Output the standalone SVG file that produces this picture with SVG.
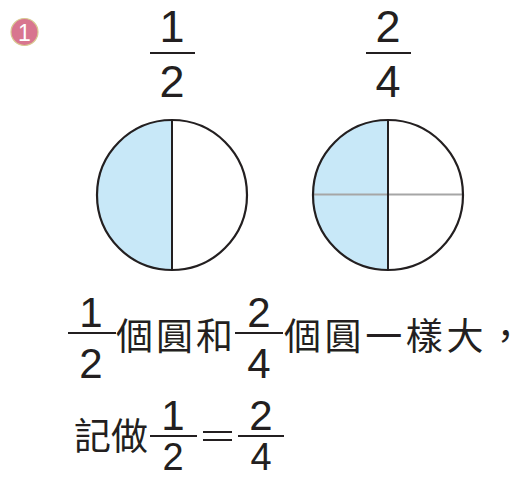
<svg xmlns="http://www.w3.org/2000/svg" width="527" height="478" viewBox="0 0 527 478">
<style>
.d{font-family:"Liberation Sans","DejaVu Sans",sans-serif;font-size:45px;fill:#231f20;text-anchor:middle}
.d2{font-family:"Liberation Sans","DejaVu Sans",sans-serif;font-size:42px;fill:#231f20;text-anchor:middle}
.d3{font-family:"Liberation Sans","DejaVu Sans",sans-serif;font-size:38px;fill:#231f20;text-anchor:middle}
.c{font-family:"Noto Sans CJK TC","Noto Sans CJK SC",sans-serif;font-size:37px;fill:#231f20}
.bar{stroke:#231f20;stroke-width:2}
.circ{fill:none;stroke:#231f20;stroke-width:2.2}
.half{fill:#c8e8f8}
</style>
<g id="badge">
<circle cx="24.5" cy="32" r="13.5" fill="#d8758f" stroke="#d8c890" stroke-width="1.2"/>
<text x="24.5" y="40.5" font-family="Liberation Sans,sans-serif" font-size="23" fill="#fff" text-anchor="middle">1</text>
</g>
<g id="frac-half-top">
<text class="d" x="172" y="42">1</text>
<line class="bar" x1="150" y1="53" x2="195" y2="53"/>
<text class="d" x="172" y="97">2</text>
</g>
<g id="frac-quarter-top">
<text class="d" x="388" y="42">2</text>
<line class="bar" x1="366" y1="53" x2="411" y2="53"/>
<text class="d" x="388" y="97">4</text>
</g>
<g id="circle-half">
<path class="half" d="M172 120 A75 75 0 0 0 172 270 Z"/>
<line x1="172" y1="120" x2="172" y2="270" stroke="#231f20" stroke-width="2"/>
<circle class="circ" cx="172" cy="195" r="75"/>
</g>
<g id="circle-quarter">
<path class="half" d="M388 120 A75 75 0 0 0 388 270 Z"/>
<line x1="313" y1="194.5" x2="463" y2="194.5" stroke="#a6a6a6" stroke-width="2"/>
<line x1="388" y1="120" x2="388" y2="270" stroke="#231f20" stroke-width="2"/>
<circle class="circ" cx="388" cy="195" r="75"/>
</g>
<g id="sentence1">
<text class="d2" x="91" y="327">1</text>
<line class="bar" x1="68" y1="333" x2="116" y2="333"/>
<text class="d2" x="91" y="378">2</text>
<text class="c" x="116" y="350" textLength="117" lengthAdjust="spacing">個圓和</text>
<text class="d2" x="259" y="327">2</text>
<line class="bar" x1="235" y1="333" x2="283" y2="333"/>
<text class="d2" x="259" y="378">4</text>
<text class="c" x="284" y="350" textLength="240" lengthAdjust="spacing">個圓一樣大，</text>
</g>
<g id="sentence2">
<text class="c" x="74" y="450">記做</text>
<text class="d2" x="173" y="430">1</text>
<line class="bar" x1="150" y1="436" x2="197" y2="436"/>
<text class="d3" x="173" y="469.5">2</text>
<line class="bar" x1="203" y1="432" x2="232" y2="432"/>
<line class="bar" x1="203" y1="440" x2="232" y2="440"/>
<text class="d2" x="261" y="430">2</text>
<line class="bar" x1="238" y1="436" x2="284" y2="436"/>
<text class="d3" x="261" y="469.5">4</text>
</g>
</svg>
